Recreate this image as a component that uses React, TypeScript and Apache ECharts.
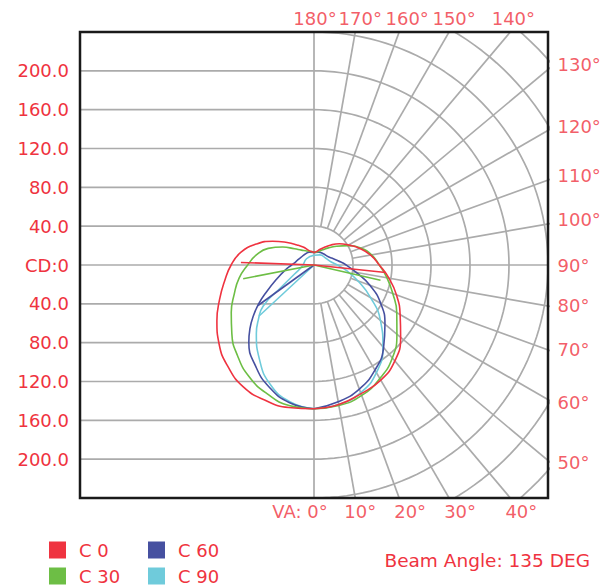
import React, { useEffect, useRef } from "react";
import * as echarts from "echarts";

// ---------- data ----------
const HALF = 240; // cd half-extent of the square frame

const cdTicks = [200, 160, 120, 80, 40, 0, -40, -80, -120, -160, -200];
const cdTickLabels = ["200.0", "160.0", "120.0", "80.0", "40.0", "CD:0", "40.0", "80.0", "120.0", "160.0", "200.0"];
const arcRadii = [40, 80, 120, 160, 200, 240, 280, 320];
const sideLevels = [40, 80, 120, 160, 200];
const radialAngles = [10, 20, 30, 40, 50, 60, 70, 80, 100, 110, 120, 130, 140, 150, 160, 170];

const topAngles = [180, 170, 160, 150, 140];
const topLabels = ["180°", "170°", "160°", "150°", "140°"];
const rightAngles = [130, 120, 110, 100, 90, 80, 70, 60, 50];
const rightLabels = ["130°", "120°", "110°", "100°", "90°", "80°", "70°", "60°", "50°"];
const bottomAngles = [0, 10, 20, 30, 40];
const bottomLabels = ["VA: 0°", "10°", "20°", "30°", "40°"];

const seriesNames = ["C 0", "C 30", "C 60", "C 90"];

// [vertical angle in degrees from nadir, intensity cd]
const c0Left = [[0, 148], [10, 149], [20, 148], [30, 145], [40, 137], [50, 127], [60, 115], [70, 103], [80, 93], [90, 85], [100, 76], [110, 63], [120, 49], [130, 36], [140, 27], [150, 21], [160, 16], [170, 14], [180, 13]];
const c0Right = [[0, 148], [10, 146], [20, 141], [30, 137], [40, 129], [50, 116], [60, 102], [70, 90], [80, 78], [90, 67], [100, 59], [110, 50], [120, 41], [130, 34], [140, 27], [150, 21], [160, 17], [170, 14], [180, 13]];
const c0ChordLeft = [92, 75];
const c0ChordRight = [84, 74];

const c30Left = [[0, 148], [10, 147], [20, 141], [30, 133], [40, 122], [50, 110], [60, 98], [70, 87], [80, 78], [90, 68], [100, 60], [110, 50], [120, 37], [130, 26], [140, 20], [150, 17], [160, 15], [170, 14], [180, 13]];
const c30Right = [[0, 148], [10, 147], [20, 143], [30, 135], [40, 125], [50, 111], [60, 98], [70, 86], [80, 76], [90, 67], [100, 60], [110, 51], [120, 40], [130, 30], [140, 23], [150, 18], [160, 15], [170, 13.5], [180, 13]];
const c30ChordLeft = [79, 74];
const c30ChordRight = [77, 70];

const c60Left = [[0, 148], [10, 144], [20, 134], [30, 120], [40, 104], [45, 93], [50, 81], [55, 69], [60, 57], [70, 40], [80, 30], [90, 23], [100, 19], [110, 17], [120, 15.5], [140, 14.5], [160, 14], [180, 13]];
const c60Right = [[0, 148], [10, 143], [20, 136], [30, 125], [40, 111], [50, 95], [60, 79], [70, 61], [80, 44], [90, 33], [100, 25], [110, 20], [120, 17], [140, 15], [160, 14], [180, 13]];
const c60ChordLeft = [54, 71];

const c90Left = [[0, 148], [10, 143], [20, 131], [30, 112], [40, 92], [45, 81], [51, 67], [56, 40], [65, 22], [85, 12], [130, 10], [180, 10]];
const c90Right = [[0, 148], [10, 146], [20, 140], [30, 128], [40, 110], [50, 89], [60, 67], [70, 48], [80, 34], [90, 24], [100, 18], [120, 14], [150, 12], [180, 10]];
const c90ChordLeft = [47, 77];

// ---------- styles ----------
const RED = "#EF3340";
const GRID = "#ababab";
const FONT = "DejaVu Sans";
const seriesColors = ["#EF3340", "#6DBE45", "#4650A0", "#6FCBDB"];
const topNudge = [1, 5, 8, 5, 3];
const rightNudge = [-5, -4, -5, -4, 0, -1, 0, 3, 2];
const bottomNudge = [-14, 5, 11, 11, 11];

const rad = (d: number) => (d * Math.PI) / 180;
const pt = (side: number, g: number, r: number): [number, number] => [side * r * Math.sin(rad(g)), -r * Math.cos(rad(g))];
const edgePoint = (g: number): [number, number] => {
  const s = Math.sin(rad(g));
  const c = -Math.cos(rad(g));
  const t = HALF / Math.max(Math.abs(s), Math.abs(c));
  return [t * s, t * c];
};

function gridLine(data: number[][]) {
  return {
    type: "line",
    data,
    symbol: "none",
    silent: true,
    clip: true,
    z: 1,
    lineStyle: { color: GRID, width: 1.7 },
  };
}

function buildOption() {
  const series: any[] = [];
  // left horizontal lines
  sideLevels.forEach((l) => {
    series.push(gridLine([[-HALF, l], [0, l]]));
    series.push(gridLine([[-HALF, -l], [0, -l]]));
  });
  // CD:0 line and vertical 0/180 line
  series.push(gridLine([[-HALF, 0], [HALF, 0]]));
  series.push(gridLine([[0, -HALF], [0, HALF]]));
  // arcs on the right half
  arcRadii.forEach((r) => {
    const d: number[][] = [];
    for (let g = 0; g <= 180; g += 2) d.push(pt(1, g, r));
    series.push(gridLine(d));
  });
  // radial lines
  radialAngles.forEach((g) => {
    series.push(gridLine([pt(1, g, 40), pt(1, g, 400)]));
  });

  // curves
  const sets = [
    { left: c0Left, right: c0Right, chord: [pt(-1, c0ChordLeft[0], c0ChordLeft[1]), [0, 0], pt(1, c0ChordRight[0], c0ChordRight[1])] },
    { left: c30Left, right: c30Right, chord: [pt(-1, c30ChordLeft[0], c30ChordLeft[1]), [0, 0], pt(1, c30ChordRight[0], c30ChordRight[1])] },
    { left: c60Left, right: c60Right, chord: [pt(-1, c60ChordLeft[0], c60ChordLeft[1]), [0, 0]] },
    { left: c90Left, right: c90Right, chord: [pt(-1, c90ChordLeft[0], c90ChordLeft[1]), [0, 0]] },
  ];
  const order = [3, 2, 1, 0];
  order.forEach((i) => {
    const s = sets[i];
    const base = {
      type: "line",
      name: seriesNames[i],
      symbol: "none",
      clip: true,
      z: 3,
      color: seriesColors[i],
      itemStyle: { color: seriesColors[i] },
      lineStyle: { color: seriesColors[i], width: 1.6 },
    };
    series.push({ ...base, smooth: true, data: s.left.map(([g, r]) => pt(-1, g, r)) });
    series.push({ ...base, smooth: true, data: s.right.map(([g, r]) => pt(1, g, r)) });
    series.push({ ...base, smooth: false, data: s.chord });
  });

  // angle labels on the frame
  const labelSeries = (angles: number[], labels: string[], position: string, nudge: number[], axis: "x" | "y") => ({
    type: "scatter",
    silent: true,
    clip: false,
    symbolSize: 1,
    itemStyle: { color: "rgba(0,0,0,0)" },
    z: 5,
    data: angles.map((g, i) => ({
      value: edgePoint(g),
      name: labels[i],
      label: { offset: axis === "x" ? [nudge[i], 0] : [0, nudge[i]] },
    })),
    label: {
      show: true,
      position,
      distance: position === "right" ? 9 : 4,
      formatter: "{b}",
      color: RED,
      fontSize: 18,
      fontFamily: FONT,
    },
  });
  series.push(labelSeries(topAngles, topLabels, "top", topNudge, "x"));
  series.push(labelSeries(rightAngles, rightLabels, "right", rightNudge, "y"));
  series.push(labelSeries(bottomAngles, bottomLabels, "bottom", bottomNudge, "x"));

  const legendBase = {
    orient: "vertical",
    top: 541,
    padding: 0,
    itemWidth: 17,
    itemHeight: 17,
    itemGap: 8,
    icon: "rect",
    selectedMode: false,
    textStyle: { color: RED, fontSize: 18, fontFamily: FONT, lineHeight: 17, padding: [0, 0, 0, 8] },
  };

  return {
    animation: false,
    backgroundColor: "#ffffff",
    textStyle: { fontFamily: FONT },
    grid: {
      left: 80,
      top: 32,
      width: 468,
      height: 466,
      show: true,
      borderColor: "#1a1a1a",
      borderWidth: 2.5,
      backgroundColor: "transparent",
      z: 10,
    },
    xAxis: {
      type: "value",
      min: -HALF,
      max: HALF,
      axisLine: { show: false },
      axisTick: { show: false },
      axisLabel: { show: false },
      splitLine: { show: false },
    },
    yAxis: {
      type: "value",
      min: -HALF,
      max: HALF,
      interval: 40,
      axisLine: { show: false },
      axisTick: { show: false },
      splitLine: { show: false },
      axisLabel: {
        color: RED,
        fontSize: 18,
        fontFamily: FONT,
        margin: 11,
        formatter: (v: number) => {
          const i = cdTicks.indexOf(v);
          return i >= 0 ? cdTickLabels[i] : "";
        },
      },
    },
    legend: [
      { ...legendBase, left: 49, data: [seriesNames[0], seriesNames[1]] },
      { ...legendBase, left: 148, data: [seriesNames[2], seriesNames[3]] },
    ],
    graphic: [
      {
        type: "text",
        x: 590,
        y: 560,
        style: {
          text: "Beam Angle: 135 DEG",
          fill: RED,
          fontSize: 18.5,
          fontFamily: FONT,
          align: "right",
          verticalAlign: "middle",
        },
      },
    ],
    series,
  };
}

export default function App() {
  const ref = useRef<HTMLDivElement>(null);
  useEffect(() => {
    if (!ref.current) return;
    const chart = echarts.init(ref.current, undefined, { renderer: "svg" });
    chart.setOption(buildOption() as any);
    return () => chart.dispose();
  }, []);
  return (
    <div
      ref={ref}
      style={{ position: "fixed", left: 0, top: 0, width: 602, height: 585, background: "#fff" }}
    />
  );
}
